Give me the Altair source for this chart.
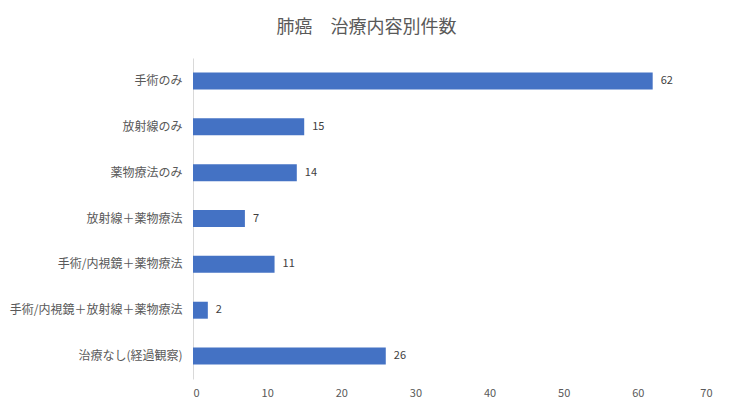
import altair as alt
import pandas as pd

categories = [
    "手術のみ",
    "放射線のみ",
    "薬物療法のみ",
    "放射線＋薬物療法",
    "手術/内視鏡＋薬物療法",
    "手術/内視鏡＋放射線＋薬物療法",
    "治療なし(経過観察)",
]
counts = [62, 15, 14, 7, 11, 2, 26]
x_ticks = [0, 10, 20, 30, 40, 50, 60, 70]

df = pd.DataFrame({"category": categories, "count": counts})

FONT = "Noto Sans CJK JP"

x_enc = alt.X(
    "count:Q",
    scale=alt.Scale(domain=[0, 70], nice=False),
    axis=alt.Axis(
        values=x_ticks,
        grid=False,
        domain=False,
        ticks=False,
        title=None,
        labelFont=FONT,
        labelFontSize=11,
        labelColor="#595959",
        labelPadding=8,
    ),
)
y_enc = alt.Y(
    "category:N",
    sort=categories,
    scale=alt.Scale(paddingInner=0.63, paddingOuter=0.315),
    axis=alt.Axis(
        title=None,
        ticks=False,
        domainColor="#d9d9d9",
        domainWidth=1,
        labelFont=FONT,
        labelFontSize=12,
        labelColor="#595959",
        labelPadding=11,
        labelLimit=300,
    ),
)

bars = alt.Chart(df).mark_bar(color="#4472C4").encode(x=x_enc, y=y_enc)
labels = alt.Chart(df).mark_text(
    align="left", baseline="middle", dx=8, font=FONT, fontSize=11, color="#404040"
).encode(x=alt.X("count:Q"), y=alt.Y("category:N", sort=categories), text="count:Q")

chart = (
    (bars + labels)
    .properties(
        width=519,
        height=321,
        title=alt.TitleParams(
            "肺癌　治療内容別件数",
            font=FONT,
            fontSize=18,
            fontWeight="normal",
            color="#595959",
            offset=21,
            dx=-86,
        ),
        autosize=alt.AutoSizeParams(type="none"),
        padding={"left": 185, "top": 50, "right": 12, "bottom": 30},
    )
    .configure_view(stroke=None)
)

chart.save("out.html", embed_options={"renderer": "svg", "actions": False})
